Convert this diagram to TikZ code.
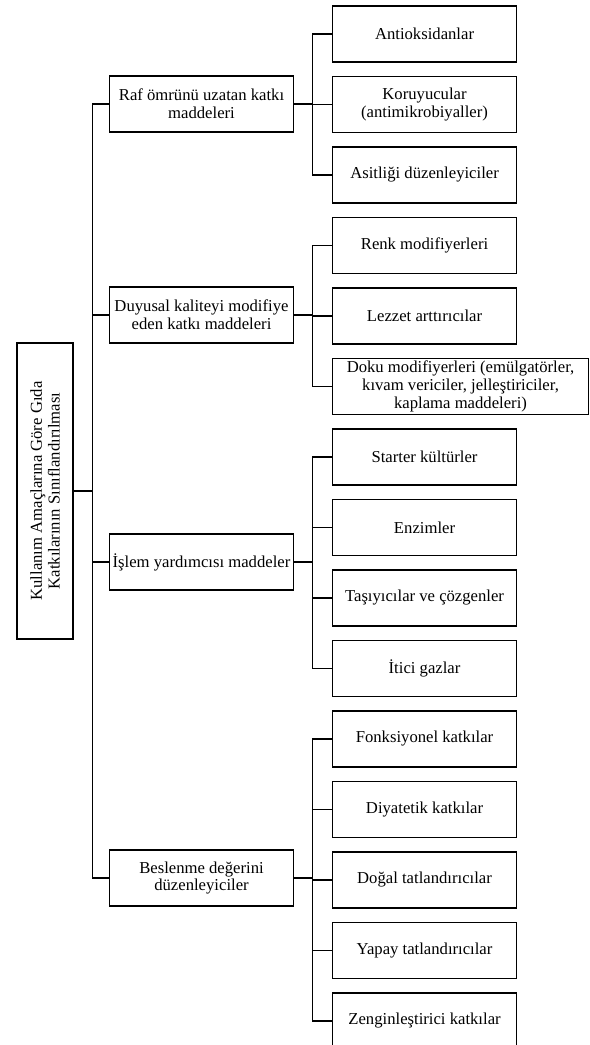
\documentclass[tikz,border=0pt]{standalone}
\usepackage{fontspec}
\setmainfont{Liberation Serif}
\usepackage{tikz}
\usetikzlibrary{positioning}

\begin{document}
\begin{tikzpicture}[x=0.75pt, y=-0.75pt, line width=0.8pt,
        box/.style = {draw, align=center, inner sep=1pt, minimum height=42pt,
                      font=\fontsize{12.5}{13.2}\selectfont},
        rootbox/.style = {box, rotate=90, minimum width=222pt},
        group/.style = {box, minimum width=138.5pt},
        leaf/.style = {box, anchor=west, minimum width=138pt}]
    \useasboundingbox (0,0) rectangle (589,1045);

    \node [rootbox] (root) at (45,491) {Kullanım Amaçlarına Göre Gıda\\Katkılarının Sınıflandırılması};

    \node [group] (raf) at (201.5,104) {Raf ömrünü uzatan katkı\\maddeleri};
    \node [group] (duyusal) at (201.5,315) {Duyusal kaliteyi modifiye\\eden katkı maddeleri};
    \node [group] (islem) at (201.5,562) {İşlem yardımcısı maddeler};
    \node [group] (beslenme) at (201.5,878) {Beslenme değerini\\düzenleyiciler};

    \node [leaf] (antiox) at (332,34) {Antioksidanlar};
    \node [leaf] (koruyucu) at (332,104.5) {Koruyucular\\(antimikrobiyaller)};
    \node [leaf] (asit) at (332,175) {Asitliği düzenleyiciler};
    \node [leaf] (renk) at (332,245.5) {Renk modifiyerleri};
    \node [leaf] (lezzet) at (332,316) {Lezzet arttırıcılar};
    \node [leaf, minimum width=192pt] (doku) at (332,386.5) {Doku modifiyerleri (emülgatörler,\\kıvam vericiler, jelleştiriciler,\\kaplama maddeleri)};
    \node [leaf] (starter) at (332,457) {Starter kültürler};
    \node [leaf] (enzim) at (332,527.5) {Enzimler};
    \node [leaf] (tasiyici) at (332,598) {Taşıyıcılar ve çözgenler};
    \node [leaf] (itici) at (332,668.5) {İtici gazlar};
    \node [leaf] (fonksiyonel) at (332,739) {Fonksiyonel katkılar};
    \node [leaf] (diyatetik) at (332,809.5) {Diyatetik katkılar};
    \node [leaf] (dogal) at (332,880) {Doğal tatlandırıcılar};
    \node [leaf] (yapay) at (332,950.5) {Yapay tatlandırıcılar};
    \node [leaf] (zengin) at (332,1021) {Zenginleştirici katkılar};

    \foreach \g in {raf,duyusal,islem,beslenme}
        \draw (root.south) -- ++(19,0) |- (\g.west);

    \foreach \g/\c in {raf/antiox,raf/koruyucu,raf/asit,
                       duyusal/renk,duyusal/lezzet,duyusal/doku,
                       islem/starter,islem/enzim,islem/tasiyici,islem/itici,
                       beslenme/fonksiyonel,beslenme/diyatetik,beslenme/dogal,
                       beslenme/yapay,beslenme/zengin}
        \draw (\g.east) -- ++(18,0) |- (\c.west);
\end{tikzpicture}
\end{document}
